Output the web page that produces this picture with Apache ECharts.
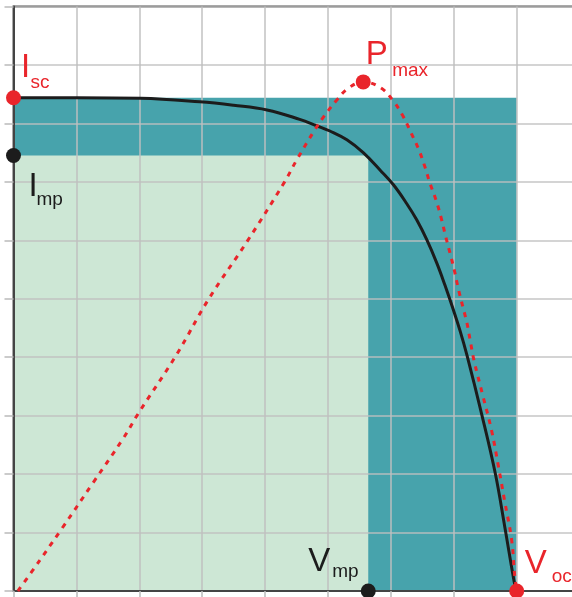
<!DOCTYPE html>
<html><head><meta charset="utf-8">
<script src="https://cdn.jsdelivr.net/npm/echarts@6/dist/echarts.min.js"></script>
<style>html,body{margin:0;padding:0;background:#fff;overflow:hidden}#c{width:572px;height:597px}</style>
</head><body><div id="c"></div>
<script>
// ---- data (arbitrary units) ----
const Isc = 8.44, Imp = 7.45, Vmp = 5.64, Voc = 8.0;
const PmaxV = 5.56, PmaxP = 8.71;
// I-V curve  [V, I]
const ivCurve = [
  [0, 8.44], [1, 8.44], [2.02, 8.43], [2.96, 8.37], [3.5, 8.31], [4.03, 8.23], [4.55, 8.07], [4.82, 7.96],
  [5.03, 7.87], [5.30, 7.72], [5.56, 7.50], [5.83, 7.20], [6.04, 6.95], [6.25, 6.63],
  [6.41, 6.35], [6.57, 6.01], [6.73, 5.61], [6.86, 5.23], [6.99, 4.82], [7.10, 4.45],
  [7.21, 4.03], [7.44, 3.04], [7.66, 2.01], [7.81, 1.10], [7.97, 0.10], [8.0, 0]
];
// power curve (scaled)  [V, P]
const powerCurve = [
  [0.07, 0], [0.29, 0.33], [0.77, 1.07], [1.27, 1.86], [1.75, 2.62], [1.98, 3.03],
  [2.59, 4.04], [3.10, 4.99], [3.72, 5.99], [4.31, 7.00], [4.50, 7.37], [4.79, 7.89],
  [4.95, 8.14], [5.14, 8.40], [5.32, 8.60], [5.56, 8.71], [5.85, 8.60], [6.04, 8.38],
  [6.19, 8.13], [6.32, 7.84], [6.44, 7.56], [6.54, 7.26], [6.62, 6.98], [6.72, 6.68],
  [6.80, 6.38], [6.87, 6.07], [6.94, 5.78], [7.01, 5.48], [7.07, 5.18], [7.14, 4.88],
  [7.21, 4.58], [7.26, 4.29], [7.32, 3.95], [7.46, 3.35], [7.60, 2.75], [7.71, 2.13],
  [7.81, 1.53], [7.92, 0.87], [7.97, 0.24], [8.0, 0]
];
// rectangles [x0, y0, x1, y1]
const rectangles = [[0, 0, Voc, Isc], [0, 0, Vmp, Imp]];
// marked points
const redPoints = [[0, Isc], [PmaxV, PmaxP], [Voc, 0]];
const blackPoints = [[0, Imp], [Vmp, 0]];
// annotation texts: [main, subscript, anchor point]
const labelTexts = [
  ['I', 'sc', [0, Isc]],
  ['I', 'mp', [0, Imp]],
  ['P', 'max', [PmaxV, PmaxP]],
  ['V', 'mp', [Vmp, 0]],
  ['V', 'oc', [Voc, 0]]
];
const xRange = [0, 9], yRange = [0, 10];

// ---- styles ----
const RED = '#e9252b', BLACK = '#1c1c1c';
const rectFills = ['#47a3ac', '#cde7d5'];
const labelColors = [RED, BLACK, RED, BLACK, RED];
// offsets (px) of main / subscript text from the anchor point
const labelOffsets = [
  {m: [7.5, -30], s: [17, -15]},
  {m: [15, 31], s: [23, 44]},
  {m: [2.5, -26.5], s: [29, -11.5]},
  {m: [-60, -29.5], s: [-36, -19.5]},
  {m: [8, -27.5], s: [35, -14.5]}
];
const FONT = '"Liberation Sans", Arial, Helvetica, sans-serif';

const chart = echarts.init(document.getElementById('c'), null, {renderer: 'canvas'});
const gridLine = {color: 'rgba(192,192,192,0.9)', width: 1.6};
chart.setOption({
  animation: false,
  grid: {left: 13.5, right: -7.6, top: 6.5, bottom: 6, outerBoundsMode: 'none', containLabel: false,
    show: true, borderColor: '#555', borderWidth: 2, backgroundColor: 'transparent'},
  xAxis: {
    type: 'value', min: xRange[0], max: xRange[1], interval: 1,
    axisLabel: {show: false},
    axisLine: {show: true, onZero: false, lineStyle: {color: '#444', width: 2}},
    axisTick: {show: true, length: 6, lineStyle: {color: '#bbb', width: 1.5}},
    splitLine: {show: true, lineStyle: gridLine}
  },
  yAxis: {
    type: 'value', min: yRange[0], max: yRange[1], interval: 1,
    axisLabel: {show: false},
    axisLine: {show: true, onZero: false, lineStyle: {color: '#444', width: 2}},
    axisTick: {show: true, length: 9, lineStyle: {color: '#bbb', width: 1.5}},
    splitLine: {show: true, lineStyle: gridLine}
  },
  series: [
    {
      type: 'custom', z: -1, data: rectangles, silent: true,
      renderItem: function (params, api) {
        const p0 = api.coord([api.value(0), api.value(1)]);
        const p1 = api.coord([api.value(2), api.value(3)]);
        return {type: 'rect', shape: {x: p0[0], y: p1[1], width: p1[0] - p0[0], height: p0[1] - p1[1]},
          style: {fill: rectFills[params.dataIndex]}};
      }
    },
    {
      type: 'line', data: ivCurve, smooth: 0.4, symbol: 'none', z: 3,
      lineStyle: {color: BLACK, width: 3}
    },
    {
      type: 'line', data: powerCurve, smooth: 0.4, symbol: 'none', z: 4,
      lineStyle: {color: RED, width: 3, type: [5, 6]}
    },
    {
      type: 'scatter', data: blackPoints, symbolSize: 15, clip: false, z: 5,
      itemStyle: {color: BLACK, opacity: 1}
    },
    {
      type: 'scatter', data: redPoints, symbolSize: 15, clip: false, z: 5,
      itemStyle: {color: RED, opacity: 1}
    }
  ]
});

const graphics = [];
labelTexts.forEach(function (lt, i) {
  const p = chart.convertToPixel({gridIndex: 0}, lt[2]);
  const o = labelOffsets[i];
  graphics.push({type: 'text', x: p[0] + o.m[0], y: p[1] + o.m[1], z: 10,
    style: {text: lt[0], fill: labelColors[i], font: '33px ' + FONT, verticalAlign: 'middle', align: 'left'}});
  graphics.push({type: 'text', x: p[0] + o.s[0], y: p[1] + o.s[1], z: 10,
    style: {text: lt[1], fill: labelColors[i], font: '19px ' + FONT, verticalAlign: 'middle', align: 'left'}});
});
chart.setOption({graphic: graphics});
</script>
</body></html>
